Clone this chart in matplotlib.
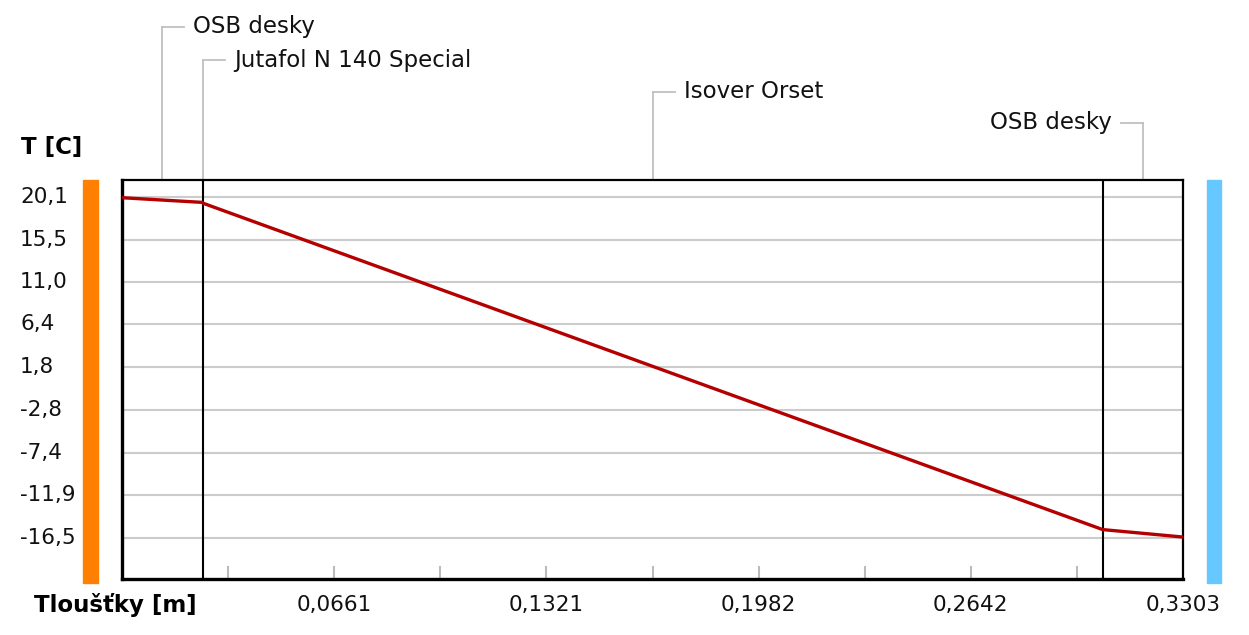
import matplotlib
matplotlib.use("Agg")
import matplotlib.pyplot as plt
import matplotlib.transforms as mtransforms
from matplotlib.patches import Rectangle

# ---- data ----
layer_names = ["OSB desky", "Jutafol N 140 Special", "Isover Orset", "OSB desky"]
layer_bounds = [0.0, 0.025, 0.0253, 0.3053, 0.3303]   # m
temps = [20.0, 19.5, 19.4, -15.6, -16.4]               # °C at boundaries
ytick_vals = [20.1, 15.5, 11.0, 6.4, 1.8, -2.8, -7.4, -11.9, -16.5]
ytick_labels = ["20,1", "15,5", "11,0", "6,4", "1,8", "-2,8", "-7,4", "-11,9", "-16,5"]
xtick_step = 0.03303
xtick_labels = ["0,0661", "0,1321", "0,1982", "0,2642", "0,3303"]

W, H = 1249, 635
fig = plt.figure(figsize=(W / 100, H / 100), dpi=100)
plt.rcParams['font.family'] = ['DejaVu Sans']

def fx(px):
    return px / W

def fy(py):
    return 1 - py / H

ax_l, ax_r, ax_t, ax_b = 122, 1183, 180, 579
ax = fig.add_axes([fx(ax_l), fy(ax_b), fx(ax_r - ax_l), (ax_b - ax_t) / H])
ax.set_xlim(0, layer_bounds[-1])
ax.set_ylim(-20.9, 21.9)
ax.set_xticks([])
ax.set_yticks([])
for s in ["left", "bottom"]:
    ax.spines[s].set_linewidth(2.4)
for s in ["top", "right"]:
    ax.spines[s].set_linewidth(1.6)
for s in ax.spines.values():
    s.set_color("#000000")

# grid lines
for v in ytick_vals:
    ax.axhline(v, color="#cccccc", lw=1.5, zorder=1)

# minor ticks at bottom
xb = mtransforms.blended_transform_factory(ax.transData, ax.transAxes)
tick_h = 12 / (ax_b - ax_t)
for k in range(1, 10):
    x = k * xtick_step
    ax.plot([x, x], [0, tick_h], color="#bbbbbb", lw=1.5, transform=xb, zorder=2)

TICK_FS = 15.5
# x tick labels
for i, lab in enumerate(xtick_labels):
    x = (i + 1) * 2 * xtick_step
    if i == len(xtick_labels) - 1:
        x = layer_bounds[-1]
    ax.text(x, fy(605), lab, transform=mtransforms.blended_transform_factory(ax.transData, fig.transFigure),
            ha="center", va="center", fontsize=TICK_FS, color="#111111")

# y tick labels (left aligned)
yb = mtransforms.blended_transform_factory(fig.transFigure, ax.transData)
for v, lab in zip(ytick_vals, ytick_labels):
    ax.text(fx(20), v, lab, transform=yb, ha="left", va="center", fontsize=TICK_FS, color="#111111")

# layer boundary lines
for b in [layer_bounds[2], layer_bounds[3]]:
    ax.axvline(b, color="#000000", lw=1.5, zorder=3)

# temperature line
ax.plot(layer_bounds, temps, color="#b40000", lw=2.4, zorder=4, solid_capstyle="butt")

# layer annotations
ft = mtransforms.blended_transform_factory(ax.transData, fig.transFigure)
centers = [
    (layer_bounds[0] + layer_bounds[1]) / 2,
    (layer_bounds[1] + layer_bounds[2]) / 2,
    (layer_bounds[2] + layer_bounds[3]) / 2,
    (layer_bounds[3] + layer_bounds[4]) / 2,
]
levels = [27, 60, 92, 123]
sides = [1, 1, 1, -1]
gray = "#c0c0c0"
for name, c, lv, sd in zip(layer_names, centers, levels, sides):
    ax.plot([c, c], [fy(ax_t), fy(lv)], color=gray, lw=1.3, transform=ft, clip_on=False)
    xpx = ax.transData.transform((c, 0))[0]
    ax.plot([xpx / W, (xpx + sd * 22) / W], [fy(lv), fy(lv)], color=gray, lw=1.3,
            transform=fig.transFigure, clip_on=False)
    fig.text((xpx + sd * 31) / W, fy(lv), name, ha="left" if sd > 0 else "right",
             va="center", fontsize=16.5, color="#111111")

# axis titles
fig.text(fx(21), fy(148), "T [C]", ha="left", va="center", fontsize=16.5, fontweight="bold")
fig.text(fx(34), fy(605), "Tloušťky [m]", ha="left", va="center", fontsize=16.5, fontweight="bold")

# side color bars
fig.patches.append(Rectangle((fx(83), fy(583)), fx(15), (583 - 180) / H,
                             transform=fig.transFigure, color="#ff8000", zorder=0))
fig.patches.append(Rectangle((fx(1207), fy(583)), fx(14), (583 - 180) / H,
                             transform=fig.transFigure, color="#66c8ff", zorder=0))

fig.savefig("out.png", dpi=100)
